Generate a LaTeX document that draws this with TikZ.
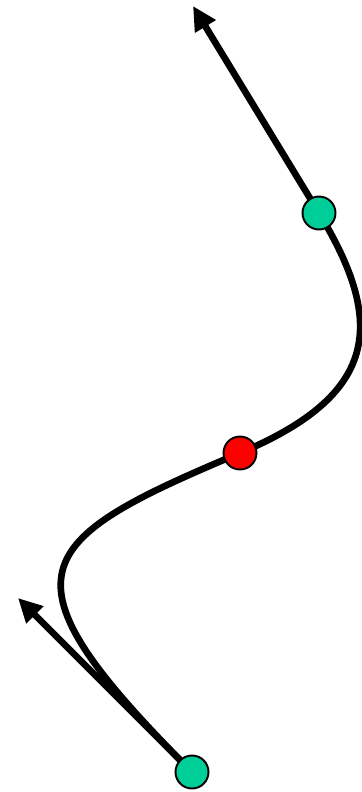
\documentclass[tikz,border=0pt]{standalone}
\usepackage{tikz}
\usetikzlibrary{arrows.meta}
\usepackage{xcolor}
\definecolor{knotgreen}{RGB}{0,206,152}

\begin{document}
\begin{tikzpicture}[x=0.02cm,y=-0.02cm,>={Triangle[length=0.48cm,width=0.46cm]},
  curveline/.style={line width=3.8pt,black},
  knot/.style={circle,draw=black,line width=1.1pt,minimum size=0.66cm,inner sep=0pt}]
\useasboundingbox (0,0) rectangle (362,792);
\coordinate (p0) at (192,772);
\coordinate (pm) at (240,453);
\coordinate (p1) at (319,213);
\coordinate (t0) at (18,598);
\coordinate (t1) at (193,6);
% tangent handles
\draw[curveline,->] (p0) -- (t0);
\draw[curveline,->] (p1) -- (t1);
% the spline
\draw[curveline] (p0) .. controls (-6,574) and (28,542) .. (pm)
  .. controls (378,395) and (386.6,324) .. (p1);
\node[knot,fill=knotgreen] (A) at (p0) {};
\node[knot,fill=red] (M) at (pm) {};
\node[knot,fill=knotgreen] (B) at (p1) {};
\end{tikzpicture}
\end{document}
